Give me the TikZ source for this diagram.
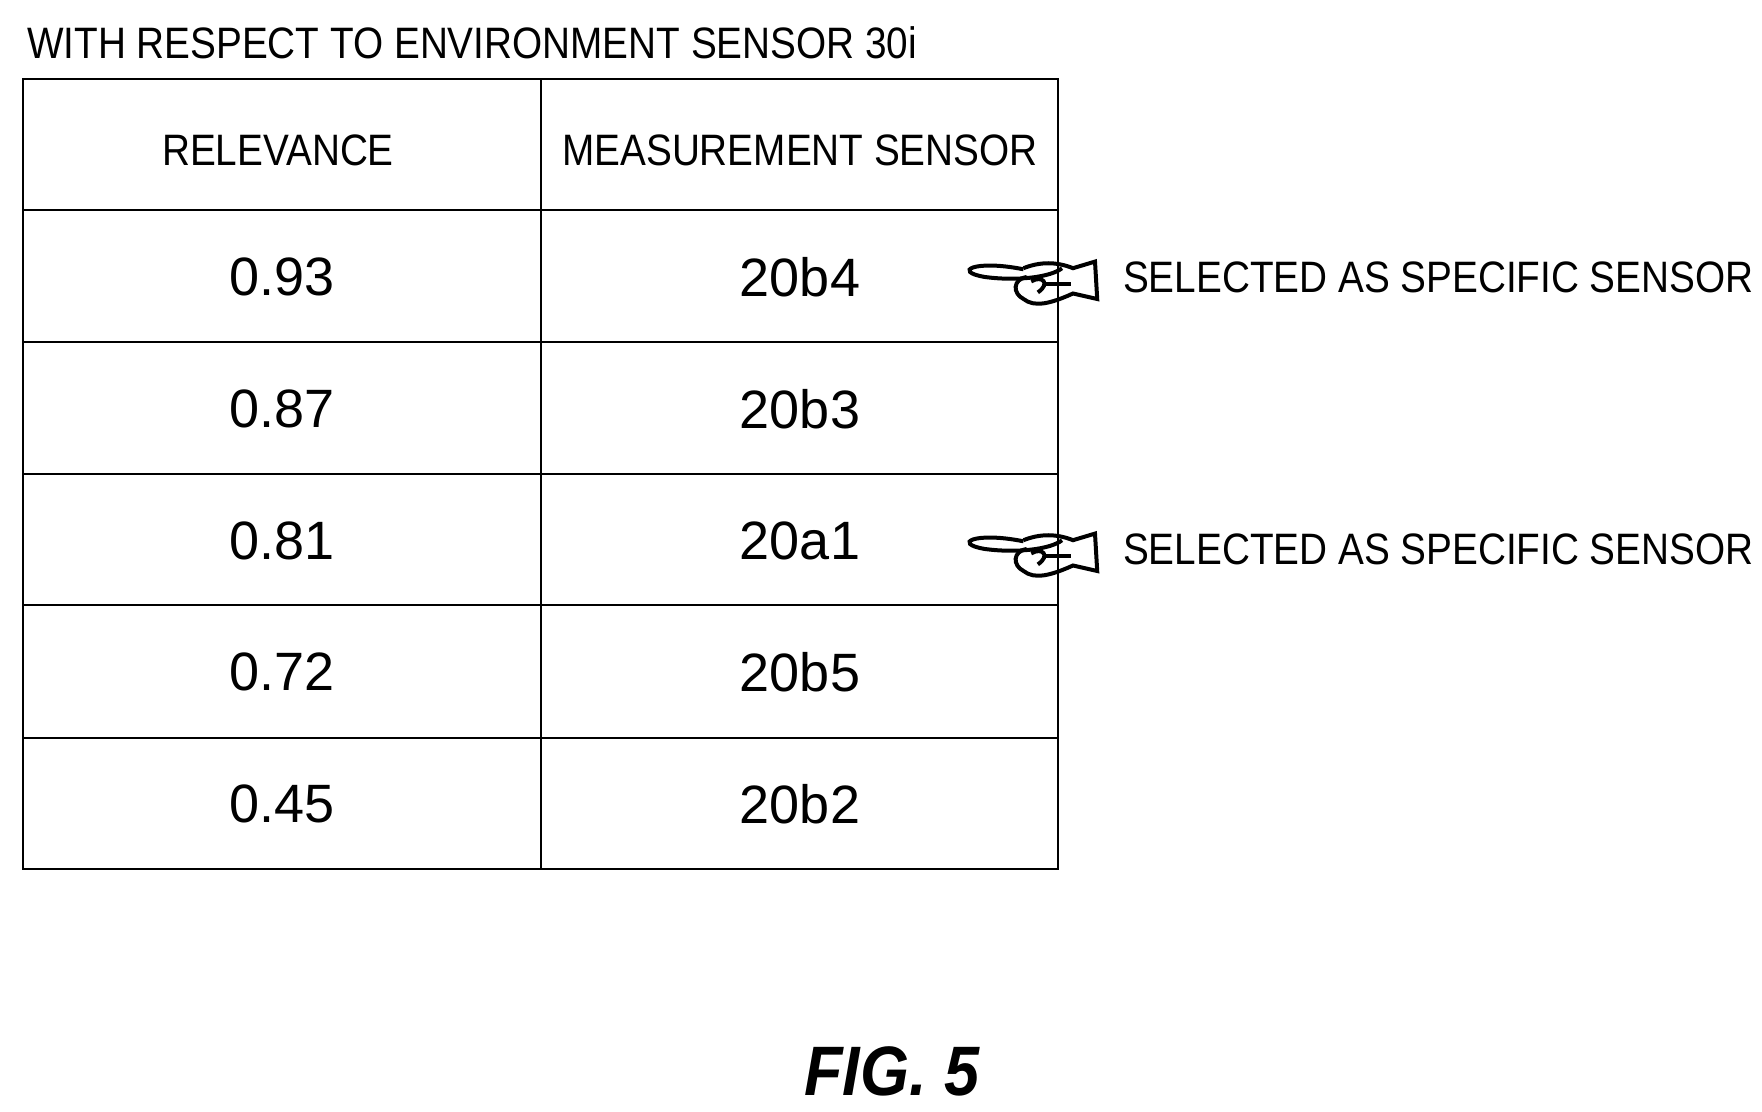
\documentclass[tikz,border=0pt]{standalone}
\usepackage{fontspec}
\setmainfont{Liberation Sans}[FakeStretch=0.88]
\newfontfamily\datfont{Liberation Sans}[FakeStretch=1.0]
\newfontfamily\figfont{Liberation Sans}[FakeStretch=0.9]
\begin{document}
\begin{tikzpicture}[x=0.5pt,y=-0.5pt,
  hdr/.style={font=\fontsize{22}{24}\selectfont},
  dat/.style={font=\datfont\fontsize{27}{30}\selectfont},
  lbl/.style={font=\fontsize{22}{24}\selectfont,anchor=west},
  hand/.style={line width=2pt}]
\useasboundingbox (0,0) rectangle (1762,1112);
% table
\draw[line width=1.4pt] (23,79) rectangle (1058,869);
\foreach \y in {210,342,474,605,738} \draw[line width=0.6pt] (23,\y) -- (1058,\y);
\draw[line width=0.6pt] (541,79) -- (541,869);
\node[anchor=west,hdr] (title) at (20,43) {WITH RESPECT TO ENVIRONMENT SENSOR 30i};
\node[hdr] (h1) at (278,150) {RELEVANCE};
\node[hdr] (h2) at (800,150) {MEASUREMENT SENSOR};
\foreach \v/\s/\y [count=\i] in {0.93/20b4/277,0.87/20b3/409,0.81/20a1/541,0.72/20b5/672,0.45/20b2/804}{
  \node[dat] (r\i) at (282,\y) {\v};
  \node[dat] (s\i) at (800,\y) {\s};
}
% hands
\foreach \y in {277,549}{
\begin{scope}[shift={(985,\y)},scale=1.1]
 \draw[hand] (35,-7) .. controls (-10,-16) and (-30,-5) .. (0,0) .. controls (30,4) and (60,0) .. (70,-8);
 \draw[hand] (35,-8) .. controls (50,-14) and (65,-14) .. (80,-8) -- (100,-14) -- (102,20) -- (80,15) .. controls (60,24) and (45,28) .. (35,20) .. controls (25,15) and (25,2) .. (38,0);
 \draw[hand] (42,4) .. controls (52,-2) and (60,6) .. (48,14);
 \draw[hand] (55,6) -- (78,6);
\end{scope}}
\node[lbl] (l1) at (1116,277) {SELECTED AS SPECIFIC SENSOR};
\node[lbl] (l2) at (1116,549) {SELECTED AS SPECIFIC SENSOR};
\node[font=\figfont\bfseries\itshape\fontsize{35}{38}\selectfont] (fig) at (892,1071) {FIG. 5};
\end{tikzpicture}
\end{document}
